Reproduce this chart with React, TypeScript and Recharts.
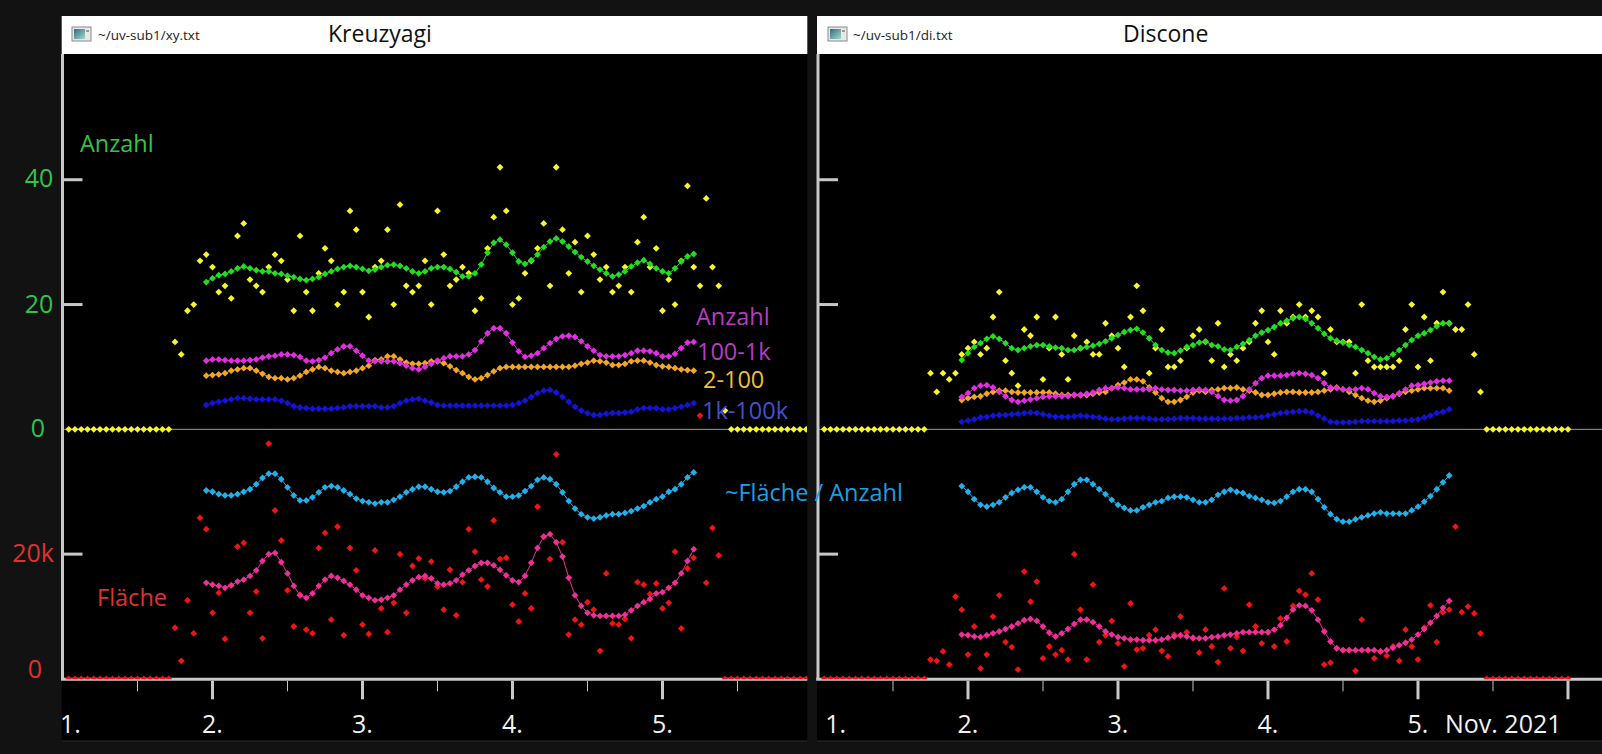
import React from "react";
import { ComposedChart, Line, XAxis, YAxis, ReferenceLine } from "recharts";

const FONT = "'Open Sans', 'Noto Sans', 'DejaVu Sans', sans-serif";

// ---- shared scale: Anzahl units; Fläche (k) is drawn 40 units lower ----
const AREA_OFFSET = 40;
const Y_DOMAIN: [number, number] = [-40.06, 60.15];
const Y_TICKS = [-40, -20, 0, 20, 40];
const Y_TICK_LABELS = ["0", "20k", "0", "20", "40"];
const dayLabels = ["1.", "2.", "3.", "4.", "5."];
const monthLabel = "Nov. 2021";
const titles = ["Kreuzyagi", "Discone"];
const fileNames = ["~/uv-sub1/xy.txt", "~/uv-sub1/di.txt"];
const legendLabels = ["Anzahl", "100-1k", "2-100", "1k-100k", "~Fläche / Anzahl"];
const sideLabels = ["Anzahl", "Fläche"];

// ---- Kreuzyagi (hourly, hour 0 = 1. Nov 00:00) ----
const kRawStart = 1;
const kRawCount = [
  0, 0, 0, 0, 0, 0, 0, 0, 0, 0, 0, 0, 0, 0, 0, 0, 0,
  14, 12, 19, 20, 27, 28, 26, 22, 23, 21, 31, 33, 24, 23, 22, 26, 28, 27, 24, 19, 31, 22, 19, 25,
  29, 27, 20, 22, 35, 32, 22, 18, 26, 27, 32, 20, 36, 23, 22, 23, 27, 20, 35, 28, 23, 24, 26, 25,
  19, 21, 29, 34, 42, 35, 20, 21, 25, 27, 29, 33, 23, 42, 32, 25, 30, 22, 31, 28, 24, 26, 22, 23,
  26, 22, 30, 34, 26, 29, 19, 24, 20, 27, 39, 26, 23, 37, 26, 23,
  3,
  0, 0, 0, 0, 0, 0, 0, 0, 0, 0, 0, 0, 0,
];
const kRawArea = [
  0, 0, 0, 0, 0, 0, 0, 0, 0, 0, 0, 0, 0, 0, 0, 0, 0,
  8.2, 2.9, 12.6, 7.3, 25.8, 24.0, 10.6, 13.8, 6.4, 15.0, 21.2, 21.8, 10.6, 14.0, 6.5, 37.7, 27.0,
  22.2, 14.2, 8.4, 13.5, 7.9, 7.3, 21.0, 23.4, 9.5, 24.4, 7.0, 21.0, 17.4, 8.7, 7.2, 20.6, 11.3,
  7.5, 12.2, 20.0, 10.6, 18.1, 19.3, 16.1, 18.8, 14.8, 11.1, 17.5, 10.2, 15.5, 24.0, 20.4,
  15.9, 14.8, 25.4, 19.2, 19.4, 11.9, 9.2, 13.7, 11.3, 27.6, 22.8, 19.2, 36.0, 21.9, 7.1, 9.5,
  8.7, 12.3, 11.1, 4.5, 16.9, 8.9, 8.7, 9.6, 6.5, 15.5, 15.1, 13.6, 15.3, 11.3, 12.2, 20.4, 8.1,
  17.7, 19.4, 42.2, 15.4, 24.2, 19.8,
  0, 0, 0, 0, 0, 0, 0, 0, 0, 0, 0, 0, 0, 0,
];
const kSmoothStart = 23;
const kCount = [
  23.6, 24.2, 24.7, 24.9, 25.3, 25.8, 26.1, 25.8, 25.5, 25.3,
  25.3, 25.0, 24.9, 24.6, 24.4, 24.1, 23.9, 24.1, 24.4, 24.9,
  25.3, 25.7, 26.0, 26.2, 26.0, 25.7, 25.4, 25.6, 26.0, 26.3,
  26.4, 26.2, 25.8, 25.3, 25.0, 25.3, 25.8, 26.0, 26.0, 25.7,
  25.2, 24.5, 24.5, 25.0, 26.4, 28.3, 29.9, 30.4, 29.6, 28.3,
  26.9, 26.5, 27.1, 28.0, 29.2, 30.1, 30.6, 30.1, 29.3, 28.4,
  27.6, 26.9, 26.2, 25.6, 25.0, 24.5, 24.8, 25.3, 26.1, 26.7,
  27.1, 26.5, 25.8, 25.3, 25.0, 25.8, 26.9, 27.7, 28.1,
];
const kMid = [
  11.0, 11.2, 11.2, 11.1, 11.0, 11.0, 11.0, 11.1, 11.2, 11.5,
  11.7, 11.8, 12.0, 12.0, 11.9, 11.6, 11.0, 10.9, 11.1, 11.5,
  12.2, 12.8, 13.3, 13.3, 12.6, 11.8, 11.0, 10.9, 10.9, 10.9,
  10.9, 10.6, 10.2, 9.8, 9.6, 10.0, 10.5, 11.0, 11.4, 11.7,
  11.7, 11.7, 12.0, 12.7, 14.1, 15.4, 16.2, 16.2, 15.4, 13.9,
  12.5, 11.6, 11.8, 12.2, 13.0, 13.8, 14.5, 14.9, 15.0, 14.8,
  14.1, 13.3, 12.6, 11.9, 11.7, 11.7, 11.7, 11.9, 12.2, 12.6,
  12.6, 12.5, 12.2, 11.7, 11.7, 12.1, 13.0, 13.9, 14.0,
];
const kSmall = [
  8.6, 8.7, 8.8, 9.0, 9.4, 9.6, 9.8, 9.8, 9.4, 8.9,
  8.4, 8.2, 8.2, 8.0, 8.2, 8.6, 9.2, 9.6, 10.0, 9.8,
  9.4, 9.2, 9.0, 9.2, 9.4, 9.8, 10.2, 11.1, 11.2, 11.7,
  11.7, 11.2, 10.7, 10.5, 10.5, 10.6, 10.9, 10.9, 10.6, 10.1,
  9.5, 9.0, 8.4, 8.0, 8.2, 8.7, 9.3, 9.8, 10.0, 10.0,
  10.0, 10.0, 10.0, 10.0, 10.0, 10.0, 10.0, 10.0, 10.0, 10.2,
  10.5, 10.7, 11.0, 10.9, 10.7, 10.3, 10.3, 10.5, 10.9, 11.0,
  11.0, 10.7, 10.3, 10.1, 10.0, 9.8, 9.6, 9.5, 9.4,
];
const kLarge = [
  3.9, 4.2, 4.4, 4.6, 4.8, 5.0, 5.0, 4.9, 4.8, 4.8,
  4.8, 4.8, 4.6, 4.2, 3.7, 3.5, 3.4, 3.3, 3.3, 3.3,
  3.3, 3.4, 3.5, 3.7, 3.7, 3.7, 3.7, 3.7, 3.5, 3.5,
  3.7, 4.2, 4.6, 4.8, 4.9, 4.6, 4.3, 3.9, 3.8, 3.8,
  3.8, 3.8, 3.8, 3.8, 3.8, 3.8, 3.8, 3.8, 3.8, 3.9,
  4.2, 4.6, 5.2, 5.8, 6.2, 6.3, 5.9, 5.2, 4.4, 3.6,
  3.0, 2.6, 2.3, 2.3, 2.5, 2.6, 2.6, 2.7, 2.8, 3.2,
  3.4, 3.4, 3.4, 3.2, 3.2, 3.4, 3.6, 3.9, 4.2,
];
const kRatio = [
  30.2, 30.0, 29.6, 29.4, 29.4, 29.6, 30.0, 30.4, 31.2, 32.2,
  32.9, 32.9, 32.0, 30.7, 29.4, 28.6, 28.6, 29.1, 29.9, 30.7,
  30.9, 30.7, 30.2, 29.6, 28.9, 28.5, 28.3, 28.1, 28.3, 28.3,
  28.7, 29.2, 29.9, 30.4, 30.8, 30.8, 30.4, 30.0, 29.9, 30.1,
  30.8, 31.6, 32.3, 32.4, 32.3, 31.6, 30.6, 29.9, 29.2, 29.2,
  29.4, 30.1, 30.9, 31.9, 32.3, 32.0, 31.2, 29.9, 28.5, 27.3,
  26.4, 25.9, 25.7, 25.9, 26.2, 26.4, 26.4, 26.6, 26.9, 27.3,
  27.7, 28.3, 28.8, 29.2, 30.0, 30.4, 31.2, 32.3, 33.1,
];
const kArea = [
  15.4, 15.1, 14.9, 14.6, 15.0, 15.6, 15.9, 16.5, 17.4, 18.9,
  20.0, 20.2, 18.7, 16.9, 14.9, 13.4, 13.0, 13.7, 14.9, 15.9,
  16.5, 16.2, 15.7, 15.1, 14.3, 13.4, 13.0, 12.6, 12.7, 13.0,
  13.4, 14.3, 15.1, 15.8, 16.3, 16.5, 16.1, 15.3, 15.1, 15.3,
  15.8, 16.7, 17.4, 18.1, 18.6, 18.6, 18.2, 17.5, 16.6, 15.8,
  15.5, 16.5, 18.6, 21.0, 22.8, 23.2, 21.9, 19.6, 16.2, 13.4,
  11.7, 10.6, 10.2, 10.1, 10.1, 10.1, 10.1, 10.3, 11.0, 11.7,
  12.3, 12.8, 13.7, 13.9, 14.6, 15.4, 16.9, 18.9, 20.8,
];

// ---- Discone ----
const dRawStart = 1;
const dRawCount = [
  0, 0, 0, 0, 0, 0, 0, 0, 0, 0, 0, 0, 0, 0, 0, 0, 0,
  9, 6, 9, 8, 9, 12, 13, 14, 12, 13,
  18, 22, 11, 9, 7, 16, 15, 18, 8, 13,
  18, 12, 8, 15, 13, 14, 12, 12, 17, 15,
  13, 10, 18, 23, 19, 9, 13, 16, 10, 10,
  11, 13, 15, 16, 14, 11, 17, 10, 12, 11,
  13, 14, 17, 19, 14, 12, 19, 17, 18, 20,
  18, 19, 18, 9, 16, 14, 14, 14, 9, 20,
  11, 10, 10, 10, 10, 11, 16, 20, 10, 18,
  11, 17, 22, 17, 16, 16, 20, 12, 6,
  0, 0, 0, 0, 0, 0, 0, 0, 0, 0, 0, 0, 0, 0,
];
const dRawArea = [
  0, 0, 0, 0, 0, 0, 0, 0, 0, 0, 0, 0, 0, 0, 0, 0, 0,
  3.1, 2.9, 4.4, 2.3, 13.2, 11.1, 3.9, 8.4, 1.7, 3.9,
  10.0, 13.4, 5.9, 5.1, 1.5, 17.2, 12.4, 15.6, 3.3, 5.2,
  3.9, 4.6, 3.1, 20.0, 11.1, 3.1, 15.1, 5.9, 7.0, 9.3,
  5.7, 2.0, 12.1, 4.7, 4.9, 7.0, 7.9, 4.5, 3.6, 7.1,
  10.0, 7.5, 6.5, 4.2, 7.9, 5.2, 2.7, 14.5, 4.9, 6.7,
  4.5, 11.9, 8.4, 5.7, 7.5, 5.2, 9.7, 6.0, 11.7, 14.1,
  13.5, 16.9, 12.7, 2.3, 2.6, 4.9, 4.6, 4.6, 1.3, 9.5,
  4.6, 3.3, 4.4, 3.7, 5.2, 2.9, 7.9, 5.2, 3.1, 8.2,
  11.8, 5.9, 10.7, 11.1, 24.4, 10.7, 11.6, 10.5, 7.3,
  0, 0, 0, 0, 0, 0, 0, 0, 0, 0, 0, 0, 0, 0,
];
const dSmoothStart = 23;
const dCount = [
  11.1, 12.2, 13.2, 13.8, 14.5, 14.9, 14.5, 13.8, 13.0, 12.7,
  13.0, 13.3, 13.5, 13.5, 13.3, 13.1, 13.0, 12.7, 12.7, 13.0,
  13.2, 13.4, 13.7, 14.1, 14.6, 15.1, 15.6, 15.9, 16.1, 15.5,
  14.6, 13.5, 12.7, 12.3, 12.2, 12.6, 13.2, 13.5, 13.9, 14.1,
  13.5, 13.3, 12.8, 12.7, 13.2, 13.7, 14.3, 15.0, 15.5, 15.9,
  16.4, 17.0, 17.4, 17.8, 18.0, 17.7, 17.0, 16.2, 15.3, 14.6,
  14.2, 13.9, 13.5, 13.2, 12.7, 12.2, 11.6, 11.2, 11.4, 12.0,
  12.7, 13.5, 14.3, 15.0, 15.4, 15.9, 16.5, 17.0, 17.0,
];
const dMid = [
  5.2, 5.8, 6.6, 7.0, 7.1, 6.7, 6.0, 5.3, 4.7, 4.4,
  4.6, 4.8, 5.0, 5.2, 5.3, 5.3, 5.3, 5.3, 5.5, 5.5,
  5.7, 5.9, 6.3, 6.6, 6.6, 6.7, 6.6, 6.4, 6.4, 6.4,
  6.4, 6.6, 6.4, 6.3, 6.3, 6.2, 6.2, 6.3, 6.4, 6.3,
  6.0, 5.3, 4.7, 4.6, 4.7, 5.3, 6.4, 7.4, 8.2, 8.6,
  8.6, 8.6, 8.7, 8.9, 9.0, 8.9, 8.7, 8.2, 7.4, 6.7,
  6.6, 6.4, 6.4, 6.4, 6.6, 6.4, 5.8, 5.3, 5.2, 5.3,
  5.8, 6.4, 7.0, 7.1, 7.3, 7.5, 7.7, 7.8, 7.8,
];
const dSmall = [
  4.7, 5.0, 5.2, 5.3, 5.7, 6.0, 6.2, 6.2, 6.0, 5.9,
  5.9, 5.9, 5.9, 5.9, 5.9, 5.7, 5.5, 5.5, 5.5, 5.5,
  5.5, 5.7, 5.9, 6.0, 6.6, 7.1, 7.5, 8.0, 8.0, 7.7,
  6.7, 5.9, 5.0, 4.4, 4.4, 4.7, 5.2, 5.9, 6.2, 6.0,
  6.3, 6.4, 6.6, 6.6, 6.7, 6.4, 6.2, 5.9, 5.5, 5.5,
  5.7, 5.9, 6.0, 6.0, 5.9, 5.9, 5.9, 6.0, 6.2, 6.4,
  6.7, 6.4, 6.0, 5.5, 5.0, 4.6, 4.4, 4.6, 5.0, 5.3,
  5.7, 6.0, 6.2, 6.4, 6.6, 6.6, 6.6, 6.6, 6.2,
];
const dLarge = [
  1.2, 1.4, 1.6, 1.9, 2.0, 2.2, 2.3, 2.3, 2.4, 2.5,
  2.6, 2.7, 2.6, 2.4, 2.2, 2.0, 2.0, 2.0, 2.1, 2.2,
  2.1, 2.0, 1.9, 1.7, 1.6, 1.6, 1.7, 1.8, 1.8, 1.8,
  1.7, 1.6, 1.6, 1.6, 1.7, 1.8, 1.8, 1.8, 1.7, 1.7,
  1.7, 1.7, 1.7, 1.7, 1.8, 1.8, 1.9, 1.9, 2.0, 2.2,
  2.4, 2.6, 2.7, 2.8, 2.9, 2.9, 2.7, 2.2, 1.7, 1.2,
  1.1, 1.1, 1.1, 1.2, 1.3, 1.3, 1.3, 1.3, 1.3, 1.3,
  1.4, 1.4, 1.5, 1.6, 1.9, 2.2, 2.6, 2.8, 3.2,
];
const dRatio = [
  30.9, 30.0, 28.8, 27.9, 27.6, 27.9, 28.3, 29.1, 29.8, 30.3,
  30.7, 30.7, 30.0, 29.1, 28.5, 28.3, 28.8, 30.0, 31.2, 31.9,
  31.9, 31.2, 30.4, 29.6, 28.7, 27.9, 27.4, 27.0, 27.0, 27.5,
  27.9, 28.3, 28.5, 29.0, 29.2, 29.2, 29.1, 28.7, 28.3, 28.3,
  28.7, 29.5, 30.0, 30.3, 30.0, 29.8, 29.3, 29.0, 28.7, 28.3,
  28.2, 28.5, 29.2, 30.0, 30.4, 30.4, 30.0, 28.8, 27.5, 26.4,
  25.6, 25.2, 25.2, 25.6, 25.9, 26.2, 26.5, 26.7, 26.5, 26.5,
  26.5, 26.5, 27.0, 27.6, 28.4, 29.3, 30.4, 31.5, 32.6,
];
const dArea = [
  7.1, 7.0, 6.8, 6.7, 7.0, 7.3, 7.6, 8.0, 8.4, 8.9,
  9.4, 9.6, 9.3, 8.4, 7.4, 6.8, 7.3, 8.0, 8.8, 9.5,
  9.5, 9.1, 8.4, 7.6, 7.1, 6.7, 6.5, 6.3, 6.3, 6.2,
  6.2, 6.2, 6.3, 6.6, 6.8, 7.0, 6.8, 6.6, 6.5, 6.5,
  6.7, 6.8, 7.0, 7.1, 7.3, 7.5, 7.5, 7.5, 7.5, 7.5,
  7.9, 8.6, 9.8, 11.1, 11.8, 11.7, 11.0, 9.5, 7.6, 6.0,
  4.9, 4.6, 4.6, 4.6, 4.6, 4.6, 4.6, 4.4, 4.6, 5.0,
  5.4, 5.8, 6.3, 7.1, 8.0, 9.0, 10.1, 11.4, 12.5,
];

const C = {
  bg: "#121212",
  plot: "#000000",
  axis: "#c8c8c8",
  zero: "#9c9c9c",
  yellow: "#f6f62a",
  red: "#f01414",
  green: "#22dd22",
  magenta: "#e22ee2",
  orange: "#f2a624",
  blue: "#1414d6",
  cyan: "#22b0ea",
  pink: "#ee2f95",
  labelGreen: "#31c44c",
  labelRed: "#e2302e",
  textMagenta: "#b83cc0",
  textOrange: "#f0bc3c",
  textBlue: "#4450cc",
  textCyan: "#1e9ee0",
  xLabel: "#f2f2f2",
};

type Series = { key: string; start: number; values: number[]; area: boolean };

function buildRows(series: Series[], lastHour: number) {
  const rows: Record<string, number>[] = [];
  for (let h = 1; h <= lastHour; h++) {
    const row: Record<string, number> = { h };
    for (const s of series) {
      const i = h - s.start;
      if (i >= 0 && i < s.values.length) {
        row[s.key] = s.area ? s.values[i] - AREA_OFFSET : s.values[i];
      }
    }
    rows.push(row);
  }
  return rows;
}

const kRows = buildRows(
  [
    { key: "rawCount", start: kRawStart, values: kRawCount, area: false },
    { key: "rawArea", start: kRawStart, values: kRawArea, area: true },
    { key: "count", start: kSmoothStart, values: kCount, area: false },
    { key: "mid", start: kSmoothStart, values: kMid, area: false },
    { key: "small", start: kSmoothStart, values: kSmall, area: false },
    { key: "large", start: kSmoothStart, values: kLarge, area: false },
    { key: "ratio", start: kSmoothStart, values: kRatio, area: true },
    { key: "area", start: kSmoothStart, values: kArea, area: true },
  ],
  119
);
const dRows = buildRows(
  [
    { key: "rawCount", start: dRawStart, values: dRawCount, area: false },
    { key: "rawArea", start: dRawStart, values: dRawArea, area: true },
    { key: "count", start: dSmoothStart, values: dCount, area: false },
    { key: "mid", start: dSmoothStart, values: dMid, area: false },
    { key: "small", start: dSmoothStart, values: dSmall, area: false },
    { key: "large", start: dSmoothStart, values: dLarge, area: false },
    { key: "ratio", start: dSmoothStart, values: dRatio, area: true },
    { key: "area", start: dSmoothStart, values: dArea, area: true },
  ],
  120
);

const diamond = (color: string, r = 3.4) => (props: any) => {
  const { cx, cy, index } = props;
  if (cx == null || cy == null || Number.isNaN(cx) || Number.isNaN(cy)) return <g key={`n${index}`} />;
  return (
    <path
      key={`d${index}`}
      d={`M${cx},${cy - r}L${cx + r},${cy}L${cx},${cy + r}L${cx - r},${cy}Z`}
      fill={color}
    />
  );
};

type PanelProps = {
  rows: Record<string, number>[];
  width: number;
  yAxisWidth: number;
  maxHour: number;
  xTicks: number[];
  showYLabels: boolean;
  firstLabelDx: number;
  showMonth: boolean;
};

const Y_LABEL_DX = [-27.5, -29.5, -24.5, -23.5, -23.5];
const Y_LABEL_DY = [-1, 8, 8, 8, 7];

function Panel({ rows, width, yAxisWidth, maxHour, xTicks, showYLabels, firstLabelDx, showMonth }: PanelProps) {
  const renderXTick = (p: any) => {
    const { x, y, payload } = p;
    const v = payload.value as number;
    const major = v % 24 === 0;
    const idx = Math.round(v / 24);
    return (
      <g key={`xt${v}`}>
        {v > 0 && (
          <line
            x1={x}
            x2={x}
            y1={y + 1.5}
            y2={y + (major ? 20 : 12)}
            stroke={C.axis}
            strokeWidth={major ? 3 : 1}
          />
        )}
        {major && idx < dayLabels.length && (
          <text
            x={v === 0 ? x + firstLabelDx : x}
            y={y + 54}
            textAnchor={v === 0 ? "start" : "middle"}
            fill={C.xLabel}
            fontSize={25}
            fontFamily={FONT}
          >
            {dayLabels[idx]}
          </text>
        )}
        {major && showMonth && idx === 4 && (
          <text x={x + 27} y={y + 54} textAnchor="start" fill={C.xLabel} fontSize={25} fontFamily={FONT}>
            {monthLabel}
          </text>
        )}
      </g>
    );
  };

  const renderYTick = (p: any) => {
    const { x, y, payload } = p;
    const v = payload.value as number;
    const i = Y_TICKS.indexOf(v);
    const hasMark = v === 20 || v === 40 || v === -20;
    return (
      <g key={`yt${v}`}>
        {hasMark && <line x1={x} x2={x + 20} y1={y} y2={y} stroke={C.axis} strokeWidth={3} />}
        {showYLabels && i >= 0 && (
          <text
            x={x + Y_LABEL_DX[i]}
            y={y + Y_LABEL_DY[i]}
            textAnchor="middle"
            fill={v >= 0 ? C.labelGreen : C.labelRed}
            fontSize={25}
            fontFamily={FONT}
          >
            {Y_TICK_LABELS[i]}
          </text>
        )}
      </g>
    );
  };

  const smooth = (key: string, color: string) => (
    <Line
      key={key}
      dataKey={key}
      type="linear"
      stroke={color}
      strokeWidth={1}
      dot={diamond(color)}
      activeDot={false}
      isAnimationActive={false}
      connectNulls={false}
    />
  );

  return (
    <ComposedChart width={width} height={754} data={rows} margin={{ top: 54, right: 0, bottom: 0, left: 0 }}>
      <XAxis
        dataKey="h"
        type="number"
        domain={[0, maxHour]}
        allowDataOverflow
        ticks={xTicks}
        interval={0}
        height={74.7}
        tickSize={0}
        tickMargin={0}
        tickLine={false}
        axisLine={false}
        tick={renderXTick}
      />
      <YAxis
        type="number"
        domain={Y_DOMAIN}
        allowDataOverflow
        ticks={Y_TICKS}
        interval={0}
        width={yAxisWidth}
        tickSize={0}
        tickMargin={0}
        tickLine={false}
        axisLine={{ stroke: C.axis, strokeWidth: 3 }}
        tick={renderYTick}
      />
      <ReferenceLine y={0} stroke={C.zero} strokeWidth={1} />
      <Line
        dataKey="rawCount"
        stroke="none"
        dot={diamond(C.yellow)}
        activeDot={false}
        isAnimationActive={false}
      />
      <Line
        dataKey="rawArea"
        stroke="none"
        dot={diamond(C.red)}
        activeDot={false}
        isAnimationActive={false}
      />
      {smooth("ratio", C.cyan)}
      {smooth("area", C.pink)}
      {smooth("large", C.blue)}
      {smooth("small", C.orange)}
      {smooth("mid", C.magenta)}
      {smooth("count", C.green)}
    </ComposedChart>
  );
}

function WinIcon({ x, y }: { x: number; y: number }) {
  return (
    <g>
      <rect x={x} y={y} width={19} height={14} fill="#e8e8e8" stroke="#8a8a8a" strokeWidth={1} />
      <rect x={x + 2} y={y + 2} width={11} height={10} fill="url(#iconGrad)" />
      <rect x={x + 14} y={y + 3} width={3} height={2} fill="#9a9a9a" />
    </g>
  );
}

export default function App() {
  const leftTicks = [0, 12, 24, 36, 48, 60, 72, 84, 96, 108];
  const rightTicks = [0, 12, 24, 36, 48, 60, 72, 84, 96, 108, 120];
  return (
    <div
      style={{
        position: "absolute",
        left: 0,
        top: 0,
        width: 1602,
        height: 754,
        background: C.bg,
        overflow: "hidden",
        fontFamily: FONT,
      }}
    >
      <svg width={1602} height={754} style={{ position: "absolute", left: 0, top: 0 }}>
        <defs>
          <linearGradient id="iconGrad" x1="0" y1="0" x2="1" y2="1">
            <stop offset="0" stopColor="#2f6f7a" />
            <stop offset="1" stopColor="#a6d6cc" />
          </linearGradient>
        </defs>
        <rect x={61.7} y={54} width={745.6} height={687} fill={C.plot} />
        <rect x={817} y={54} width={785} height={687} fill={C.plot} />
        {/* panel frame: bottom axis baseline sits beneath the chart layer */}
        <line x1={61} x2={807.3} y1={679.3} y2={679.3} stroke={C.axis} strokeWidth={3} />
        <line x1={816.2} x2={1602} y1={679.3} y2={679.3} stroke={C.axis} strokeWidth={3} />
        <line x1={61.7} x2={807.3} y1={741} y2={741} stroke="#2a2a2a" />
        <line x1={817} x2={1602} y1={741} y2={741} stroke="#2a2a2a" />
        <rect x={61.7} y={16} width={745.6} height={38} fill="#ffffff" />
        <rect x={817} y={16} width={785} height={38} fill="#ffffff" />
        <WinIcon x={72} y={27} />
        <WinIcon x={828} y={27} />
        <text x={98} y={40} fontSize={13.5} fill="#222" fontFamily={FONT}>
          {fileNames[0]}
        </text>
        <text x={853} y={40} fontSize={13.5} fill="#222" fontFamily={FONT}>
          {fileNames[1]}
        </text>
        <text x={328} y={41.5} fontSize={23} fill="#111" fontFamily={FONT}>
          {titles[0]}
        </text>
        <text x={1123} y={41.5} fontSize={23} fill="#111" fontFamily={FONT}>
          {titles[1]}
        </text>
      </svg>

      <div style={{ position: "absolute", left: 0, top: 0 }}>
        <Panel
          rows={kRows}
          width={807.3}
          yAxisWidth={62.5}
          maxHour={119.17}
          xTicks={leftTicks}
          showYLabels={true}
          firstLabelDx={-2.5}
          showMonth={false}
        />
      </div>
      <div style={{ position: "absolute", left: 807.7, top: 0 }}>
        <Panel
          rows={dRows}
          width={794.3}
          yAxisWidth={10}
          maxHour={125.49}
          xTicks={rightTicks}
          showYLabels={false}
          firstLabelDx={7.3}
          showMonth={true}
        />
      </div>

      <svg
        width={1602}
        height={754}
        style={{ position: "absolute", left: 0, top: 0, pointerEvents: "none" }}
      >
        <g fontFamily={FONT} fontSize={23.5}>
          <text x={80} y={152} fill={C.labelGreen}>{sideLabels[0]}</text>
          <text x={97} y={606} fill={C.labelRed}>{sideLabels[1]}</text>
          <text x={696} y={325} fill={C.textMagenta}>{sideLabels[0]}</text>
          <text x={697} y={360} fill={C.textMagenta}>{legendLabels[1]}</text>
          <text x={703} y={388} fill={C.textOrange}>{legendLabels[2]}</text>
          <text x={702} y={419} fill={C.textBlue}>{legendLabels[3]}</text>
          <text x={725} y={501} fill={C.textCyan}>{legendLabels[4]}</text>
        </g>
      </svg>
    </div>
  );
}
